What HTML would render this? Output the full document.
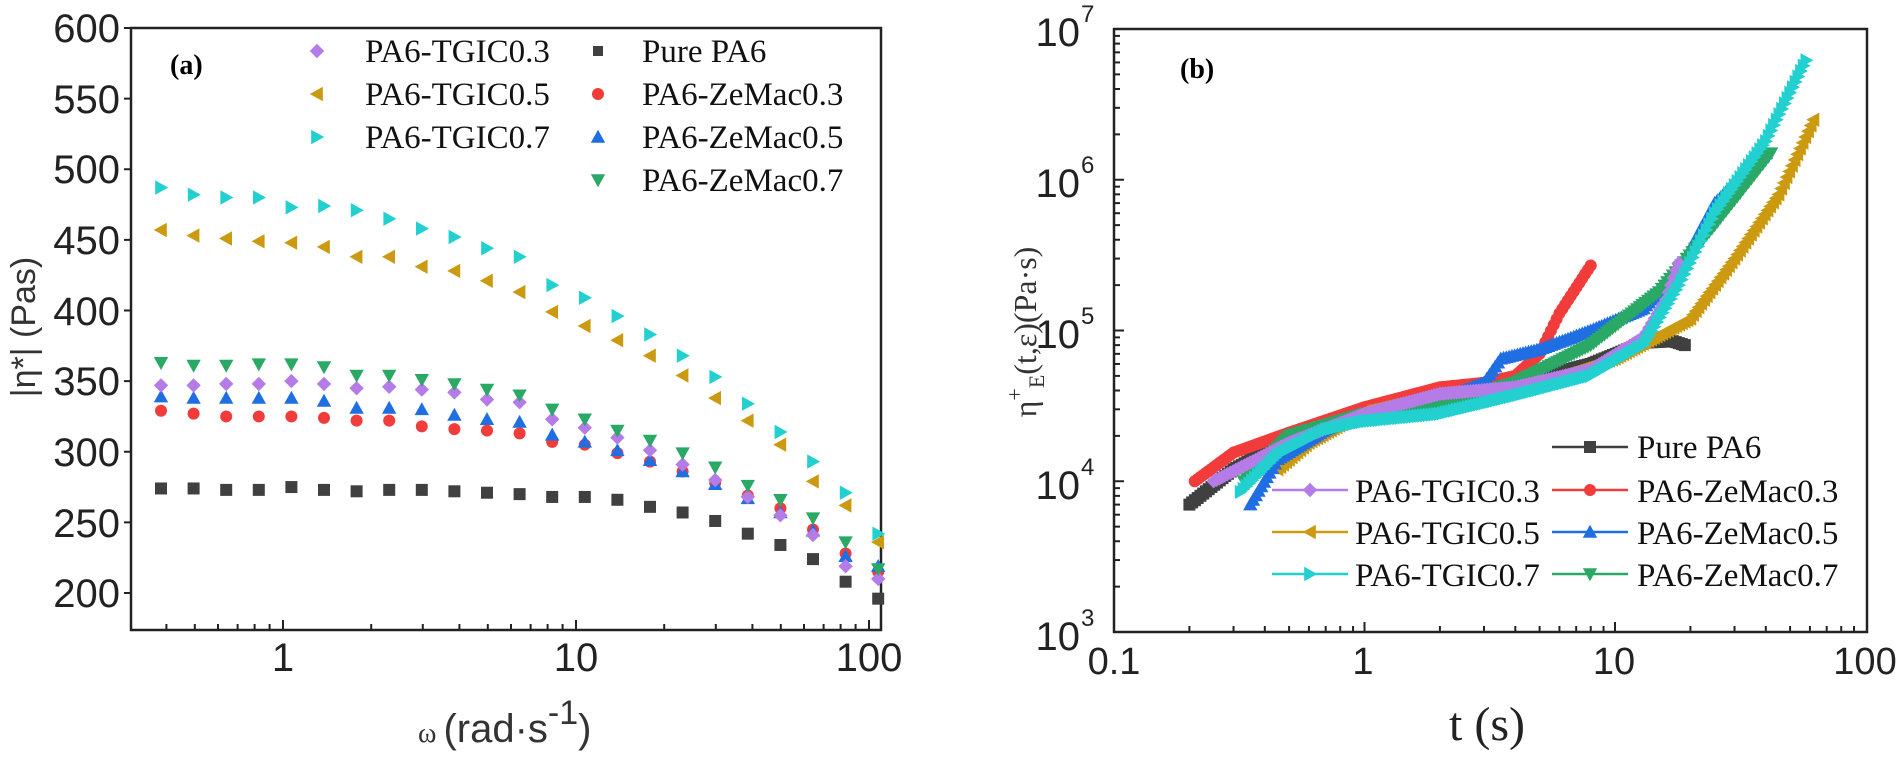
<!DOCTYPE html>
<html><head><meta charset="utf-8"><style>
html,body{margin:0;padding:0;background:#fff;}
svg{display:block}
.sans{font-family:"Liberation Sans",Arial,sans-serif}
.serif{font-family:"Liberation Serif","Times New Roman",serif}
</style></head><body>
<svg id="s" width="1900" height="766" xmlns="http://www.w3.org/2000/svg">
<rect width="1900" height="766" fill="#fff"/>
<g id="g"></g>
<g class="sans" font-size="40" fill="#222" text-anchor="end">
<text x="120" y="42">600</text><text x="120" y="113">550</text><text x="120" y="183">500</text>
<text x="120" y="254">450</text><text x="120" y="325">400</text><text x="120" y="395">350</text>
<text x="120" y="466">300</text><text x="120" y="537">250</text><text x="120" y="607">200</text>
</g>
<g class="sans" font-size="40" fill="#222" text-anchor="middle">
<text x="283" y="671">1</text><text x="576" y="671">10</text><text x="869" y="671">100</text>
</g>
<text class="serif" font-weight="bold" font-size="28" x="170" y="74">(a)</text>
<text class="sans" font-size="34" fill="#333" transform="translate(35,327) rotate(-90)" text-anchor="middle">|η*| (Pas)</text>
<text x="418" y="742" fill="#333"><tspan class="serif" font-size="28">ω </tspan><tspan class="sans" font-size="40">(rad·s</tspan><tspan class="sans" font-size="34" dy="-18">-1</tspan><tspan class="sans" font-size="40" dy="18">)</tspan></text>
<g class="serif" font-size="33" fill="#111">
<text x="365" y="62">PA6-TGIC0.3</text><text x="365" y="105">PA6-TGIC0.5</text><text x="365" y="148">PA6-TGIC0.7</text>
<text x="642" y="62">Pure PA6</text><text x="642" y="105">PA6-ZeMac0.3</text><text x="642" y="148">PA6-ZeMac0.5</text><text x="642" y="191">PA6-ZeMac0.7</text>
</g>
<g class="sans" font-size="40" fill="#222" text-anchor="end">
<text x="1080" y="46">10</text><text x="1080" y="197">10</text><text x="1080" y="348">10</text><text x="1080" y="499">10</text><text x="1080" y="650">10</text>
</g>
<g class="sans" font-size="24" fill="#222">
<text x="1081" y="22">7</text><text x="1081" y="173">6</text><text x="1081" y="324">5</text><text x="1081" y="475">4</text><text x="1081" y="626">3</text>
</g>
<g class="sans" font-size="38" fill="#222" text-anchor="middle">
<text x="1114" y="674">0.1</text><text x="1363" y="674">1</text><text x="1614" y="674">10</text><text x="1865" y="674">100</text>
</g>
<text class="serif" font-weight="bold" font-size="28" x="1180" y="78">(b)</text>
<text class="serif" font-size="48" fill="#222" x="1487" y="740" text-anchor="middle">t (s)</text>
<text class="serif" font-size="32" fill="#333" transform="translate(1036,332) rotate(-90)" text-anchor="middle">η<tspan font-size="22" dy="-14">+</tspan><tspan font-size="22" dy="22">E</tspan><tspan dy="-8">(t,ε)(Pa·s)</tspan></text>
<g class="serif" font-size="33" fill="#111">
<text x="1637" y="458">Pure PA6</text>
<text x="1355" y="502">PA6-TGIC0.3</text><text x="1355" y="544">PA6-TGIC0.5</text><text x="1355" y="586">PA6-TGIC0.7</text>
<text x="1637" y="502">PA6-ZeMac0.3</text><text x="1637" y="544">PA6-ZeMac0.5</text><text x="1637" y="586">PA6-ZeMac0.7</text>
</g>
</svg>
<script>
var g=document.getElementById('g'),h='';
function mk(t,x,y,c,s){s=s||5;
 if(t=='sq')return '<rect x="'+(x-s)+'" y="'+(y-s)+'" width="'+2*s+'" height="'+2*s+'" fill="'+c+'"/>';
 if(t=='ci')return '<circle cx="'+x+'" cy="'+y+'" r="'+s+'" fill="'+c+'"/>';
 var p;var k=s*1.2;
 if(t=='di')p=[[x,y-k],[x+k,y],[x,y+k],[x-k,y]];
 if(t=='tu')p=[[x,y-k],[x+k,y+k*0.8],[x-k,y+k*0.8]];
 if(t=='td')p=[[x,y+k],[x+k,y-k*0.8],[x-k,y-k*0.8]];
 if(t=='tl')p=[[x-k,y],[x+k*0.8,y-k],[x+k*0.8,y+k]];
 if(t=='tr')p=[[x+k,y],[x-k*0.8,y-k],[x-k*0.8,y+k]];
 return '<polygon points="'+p.map(function(a){return a[0].toFixed(1)+','+a[1].toFixed(1)}).join(' ')+'" fill="'+c+'"/>';}
var C={bk:'#404040',rd:'#f23b3b',bl:'#1f6fe3',pu:'#b57ce8',gn:'#2aa866',go:'#cc9a10',cy:'#22d0d0'};
h+='<rect x="131" y="28" width="750" height="602" fill="none" stroke="#222" stroke-width="2.5"/>';
for(var v=200;v<=600;v+=50){var y=593-(v-200)*1.4125;h+='<line x1="124" x2="131" y1="'+y+'" y2="'+y+'" stroke="#222" stroke-width="2"/>';}
for(var d=-1;d<=2;d++)for(var m=1;m<10;m++){var x=283+293*(d+Math.log10(m));if(x<131||x>881)continue;var L=m==1?10:6;h+='<line x1="'+x+'" x2="'+x+'" y1="630" y2="'+(630-L)+'" stroke="#222" stroke-width="2"/>';}
var LD={
cy:['tr',[487,482,480,480,473,474,471,465,458,452,444,438,418,409,396,383,368,353,334,314,293,271,242]],
go:['tl',[457,453,451,449,448,445,438,438,431,428,421,413,399,389,379,368,354,338,322,305,279,262,236]],
gn:['td',[363,361,361,362,362,360,354,354,351,348,344,340,330,323,315,308,299,289,276,266,253,236,217]],
pu:['di',[347,347,348,348,350,348,345,346,344,342,337,335,323,317,310,301,291,280,268,255,241,219,210]],
bl:['tu',[339,338,338,338,338,336,331,331,330,326,323,321,312,307,301,294,286,277,267,257,244,226,219]],
rd:['ci',[329,327,325,325,325,324,322,322,318,316,315,313,307,305,299,293,286,278,269,260,245,228,215]],
bk:['sq',[274,274,273,273,275,273,272,273,273,272,271,270,268,268,266,261,257,251,242,234,224,208,196]]};
['bk','rd','bl','pu','gn','go','cy'].forEach(function(k){var d=LD[k];d[1].forEach(function(v,i){var x=161+i*32.6;var y=593-(v-200)*1.4125;h+=mk(d[0],x,y,C[k],6);});});
[['di','pu',51],['tl','go',94],['tr','cy',137],['sq','bk',51],['ci','rd',94],['tu','bl',137],['td','gn',180]].forEach(function(a,i){h+=mk(a[0],i<3?317:598,a[2],C[a[1]],i==3?5:6);});
var X0=1114,DX=250.5,Y0=632,DY=150.75;
function RX(t){return X0+(Math.log10(t)+1)*DX}function RY(v){return Y0-(Math.log10(v)-3)*DY}
h+='<rect x="1114" y="29" width="753" height="603" fill="none" stroke="#222" stroke-width="2.5"/>';
for(var d=3;d<7;d++)for(var m=1;m<10;m++){var y=RY(m*Math.pow(10,d));var L=m==1?10:6;h+='<line x1="1114" x2="'+(1114+L)+'" y1="'+y+'" y2="'+y+'" stroke="#222" stroke-width="2"/>';}
for(var d=-1;d<2;d++)for(var m=1;m<10;m++){var x=RX(m*Math.pow(10,d));var L=m==1?10:6;h+='<line x1="'+x+'" x2="'+x+'" y1="632" y2="'+(632-L)+'" stroke="#222" stroke-width="2"/>';}
var RD={
bk:['sq',[[0.2,7e3],[0.3,1.2e4],[0.5,1.9e4],[1,2.8e4],[2,3.7e4],[4,4.5e4],[8,6e4],[13,8.3e4],[17,8.5e4],[19,8e4]]],
rd:['ci',[[0.21,1e4],[0.3,1.55e4],[0.5,2.1e4],[1,3.1e4],[2,4.2e4],[3,4.5e4],[4,5e4],[5,7e4],[6,1.3e5],[8,2.7e5]]],
go:['tl',[[0.45,1.2e4],[0.6,1.8e4],[1,2.9e4],[2,3.8e4],[5,4.5e4],[10,6.5e4],[20,1.2e5],[30,3e5],[45,8e5],[62,2.5e6]]],
bl:['tu',[[0.35,7e3],[0.45,1.4e4],[0.7,2.2e4],[1,2.8e4],[2,3.5e4],[3,4.5e4],[3.5,6.5e4],[5,7.5e4],[8,1e5],[13,1.4e5],[18,2.5e5],[25,7e5],[40,1.5e6]]],
gn:['td',[[0.33,1e4],[0.5,2e4],[1,2.8e4],[2,3.2e4],[4,4.5e4],[8,8e4],[15,1.8e5],[25,5e5],[42,1.5e6]]],
pu:['di',[[0.25,1e4],[0.5,1.8e4],[1,2.8e4],[2,3.8e4],[4,4.2e4],[8,5.5e4],[13,9e4],[16,1.6e5],[18,2.8e5]]],
cy:['tr',[[0.32,8.5e3],[0.45,1.5e4],[0.7,2.2e4],[1,2.5e4],[2,2.8e4],[4,3.7e4],[8,5e4],[13,8e4],[18,2e5],[25,6e5],[40,1.8e6],[58,6.2e6]]]};
['bk','rd','go','bl','gn','pu','cy'].forEach(function(k){var d=RD[k],p=d[1],pts=[];
 for(var i=0;i<p.length-1;i++){var a=p[i],b=p[i+1];var n=Math.max(2,Math.round((Math.log10(b[0])-Math.log10(a[0]))*90));
  for(var j=0;j<n;j++){var f=j/n;var lt=Math.log10(a[0])+f*(Math.log10(b[0])-Math.log10(a[0]));var lv=Math.log10(a[1])+f*(Math.log10(b[1])-Math.log10(a[1]));pts.push([RX(Math.pow(10,lt)),RY(Math.pow(10,lv))]);}}
 var e=p[p.length-1];pts.push([RX(e[0]),RY(e[1])]);
 h+='<polyline points="'+pts.map(function(q){return q[0].toFixed(1)+','+q[1].toFixed(1)}).join(' ')+'" fill="none" stroke="'+C[k]+'" stroke-width="3"/>';
 pts.forEach(function(q){h+=mk(d[0],q[0],q[1],C[k],6);});});
[['sq','bk',1552,447],['di','pu',1272,490],['tl','go',1272,532],['tr','cy',1272,574],['ci','rd',1552,490],['tu','bl',1552,532],['td','gn',1552,574]].forEach(function(a){
 h+='<line x1="'+a[2]+'" x2="'+(a[2]+76)+'" y1="'+a[3]+'" y2="'+a[3]+'" stroke="'+C[a[1]]+'" stroke-width="2.5"/>'+mk(a[0],a[2]+38,a[3],C[a[1]],6);});
g.innerHTML=h;
</script>
</body></html>
